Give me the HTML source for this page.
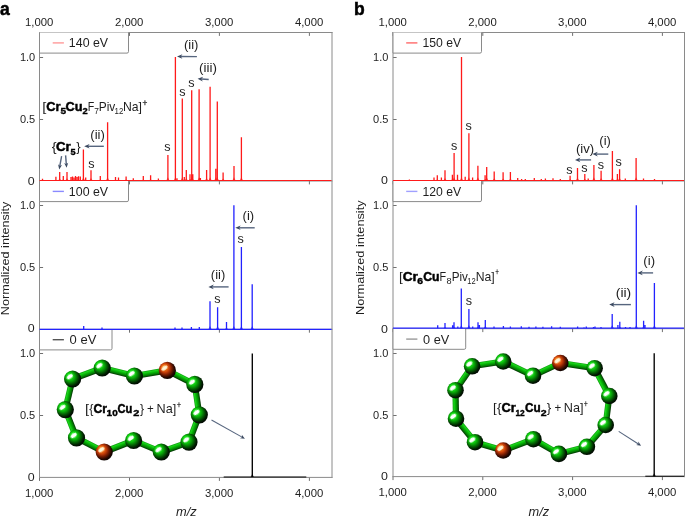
<!DOCTYPE html>
<html><head><meta charset="utf-8"><title>Mass spectra</title>
<style>html,body{margin:0;padding:0;background:#fff;width:685px;height:518px;overflow:hidden}svg{display:block;will-change:transform}</style>
</head><body>
<svg width="685" height="518" viewBox="0 0 685 518" font-family='"Liberation Sans", sans-serif'>
<defs>
<filter id="blur" x="-50%" y="-50%" width="200%" height="200%"><feGaussianBlur stdDeviation="0.55"/></filter>
<radialGradient id="gcr" cx="0.42" cy="0.42" r="0.6" fx="0.3" fy="0.3">
 <stop offset="0" stop-color="#a0ffa0"/>
 <stop offset="0.22" stop-color="#1ee81e"/>
 <stop offset="0.45" stop-color="#08aa08"/>
 <stop offset="0.66" stop-color="#035e03"/>
 <stop offset="0.85" stop-color="#011e01"/>
 <stop offset="1" stop-color="#000500"/>
</radialGradient>
<radialGradient id="gcu" cx="0.42" cy="0.42" r="0.6" fx="0.3" fy="0.3">
 <stop offset="0" stop-color="#ffc878"/>
 <stop offset="0.22" stop-color="#f47a1c"/>
 <stop offset="0.45" stop-color="#c43c08"/>
 <stop offset="0.66" stop-color="#701a02"/>
 <stop offset="0.85" stop-color="#280700"/>
 <stop offset="1" stop-color="#080100"/>
</radialGradient>
</defs>
<rect width="685" height="518" fill="#fff"/>
<text x="0.12" y="14.70" font-size="17.5" text-anchor="start" font-weight="bold" font-style="normal" fill="#000" stroke="#000" stroke-width="0.5">a</text>
<text x="354.12" y="14.90" font-size="17.5" text-anchor="start" font-weight="bold" font-style="normal" fill="#000" stroke="#000" stroke-width="0.5">b</text>
<text x="39.20" y="26.20" font-size="11.2" text-anchor="middle" font-weight="normal" font-style="normal" fill="#1e1e1e" textLength="28.4" lengthAdjust="spacingAndGlyphs">1,000</text>
<text x="39.20" y="497.00" font-size="11.2" text-anchor="middle" font-weight="normal" font-style="normal" fill="#1e1e1e" textLength="28.4" lengthAdjust="spacingAndGlyphs">1,000</text>
<text x="129.20" y="26.20" font-size="11.2" text-anchor="middle" font-weight="normal" font-style="normal" fill="#1e1e1e" textLength="28.4" lengthAdjust="spacingAndGlyphs">2,000</text>
<text x="129.20" y="497.00" font-size="11.2" text-anchor="middle" font-weight="normal" font-style="normal" fill="#1e1e1e" textLength="28.4" lengthAdjust="spacingAndGlyphs">2,000</text>
<text x="219.10" y="26.20" font-size="11.2" text-anchor="middle" font-weight="normal" font-style="normal" fill="#1e1e1e" textLength="28.4" lengthAdjust="spacingAndGlyphs">3,000</text>
<text x="219.10" y="497.00" font-size="11.2" text-anchor="middle" font-weight="normal" font-style="normal" fill="#1e1e1e" textLength="28.4" lengthAdjust="spacingAndGlyphs">3,000</text>
<text x="309.10" y="26.20" font-size="11.2" text-anchor="middle" font-weight="normal" font-style="normal" fill="#1e1e1e" textLength="28.4" lengthAdjust="spacingAndGlyphs">4,000</text>
<text x="309.10" y="497.00" font-size="11.2" text-anchor="middle" font-weight="normal" font-style="normal" fill="#1e1e1e" textLength="28.4" lengthAdjust="spacingAndGlyphs">4,000</text>
<text x="392.70" y="26.20" font-size="11.2" text-anchor="middle" font-weight="normal" font-style="normal" fill="#1e1e1e" textLength="28.4" lengthAdjust="spacingAndGlyphs">1,000</text>
<text x="392.70" y="496.10" font-size="11.2" text-anchor="middle" font-weight="normal" font-style="normal" fill="#1e1e1e" textLength="28.4" lengthAdjust="spacingAndGlyphs">1,000</text>
<text x="482.50" y="26.20" font-size="11.2" text-anchor="middle" font-weight="normal" font-style="normal" fill="#1e1e1e" textLength="28.4" lengthAdjust="spacingAndGlyphs">2,000</text>
<text x="482.50" y="496.10" font-size="11.2" text-anchor="middle" font-weight="normal" font-style="normal" fill="#1e1e1e" textLength="28.4" lengthAdjust="spacingAndGlyphs">2,000</text>
<text x="572.30" y="26.20" font-size="11.2" text-anchor="middle" font-weight="normal" font-style="normal" fill="#1e1e1e" textLength="28.4" lengthAdjust="spacingAndGlyphs">3,000</text>
<text x="572.30" y="496.10" font-size="11.2" text-anchor="middle" font-weight="normal" font-style="normal" fill="#1e1e1e" textLength="28.4" lengthAdjust="spacingAndGlyphs">3,000</text>
<text x="662.10" y="26.20" font-size="11.2" text-anchor="middle" font-weight="normal" font-style="normal" fill="#1e1e1e" textLength="28.4" lengthAdjust="spacingAndGlyphs">4,000</text>
<text x="662.10" y="496.10" font-size="11.2" text-anchor="middle" font-weight="normal" font-style="normal" fill="#1e1e1e" textLength="28.4" lengthAdjust="spacingAndGlyphs">4,000</text>
<line x1="39.50" y1="57.50" x2="43.10" y2="57.50" stroke="#707070" stroke-width="1" />
<text x="35.20" y="60.80" font-size="11.0" text-anchor="end" font-weight="normal" font-style="normal" fill="#1e1e1e" >1.0</text>
<line x1="39.50" y1="119.50" x2="43.10" y2="119.50" stroke="#707070" stroke-width="1" />
<text x="35.20" y="122.80" font-size="11.0" text-anchor="end" font-weight="normal" font-style="normal" fill="#1e1e1e" >0.5</text>
<text x="34.70" y="185.00" font-size="11.0" text-anchor="end" font-weight="normal" font-style="normal" fill="#1e1e1e" textLength="6.9" lengthAdjust="spacingAndGlyphs">0</text>
<line x1="39.50" y1="32.50" x2="39.50" y2="35.90" stroke="#707070" stroke-width="1" />
<line x1="129.50" y1="32.50" x2="129.50" y2="35.90" stroke="#707070" stroke-width="1" />
<line x1="219.40" y1="32.50" x2="219.40" y2="35.90" stroke="#707070" stroke-width="1" />
<line x1="309.40" y1="32.50" x2="309.40" y2="35.90" stroke="#707070" stroke-width="1" />
<line x1="39.50" y1="205.50" x2="43.10" y2="205.50" stroke="#707070" stroke-width="1" />
<text x="35.20" y="208.80" font-size="11.0" text-anchor="end" font-weight="normal" font-style="normal" fill="#1e1e1e" >1.0</text>
<line x1="39.50" y1="267.50" x2="43.10" y2="267.50" stroke="#707070" stroke-width="1" />
<text x="35.20" y="270.80" font-size="11.0" text-anchor="end" font-weight="normal" font-style="normal" fill="#1e1e1e" >0.5</text>
<text x="34.70" y="332.30" font-size="11.0" text-anchor="end" font-weight="normal" font-style="normal" fill="#1e1e1e" textLength="6.9" lengthAdjust="spacingAndGlyphs">0</text>
<line x1="39.50" y1="181.00" x2="39.50" y2="184.40" stroke="#707070" stroke-width="1" />
<line x1="129.50" y1="181.00" x2="129.50" y2="184.40" stroke="#707070" stroke-width="1" />
<line x1="219.40" y1="181.00" x2="219.40" y2="184.40" stroke="#707070" stroke-width="1" />
<line x1="309.40" y1="181.00" x2="309.40" y2="184.40" stroke="#707070" stroke-width="1" />
<line x1="39.50" y1="353.50" x2="43.10" y2="353.50" stroke="#707070" stroke-width="1" />
<text x="35.20" y="356.80" font-size="11.0" text-anchor="end" font-weight="normal" font-style="normal" fill="#1e1e1e" >1.0</text>
<line x1="39.50" y1="415.50" x2="43.10" y2="415.50" stroke="#707070" stroke-width="1" />
<text x="35.20" y="418.80" font-size="11.0" text-anchor="end" font-weight="normal" font-style="normal" fill="#1e1e1e" >0.5</text>
<text x="34.70" y="480.80" font-size="11.0" text-anchor="end" font-weight="normal" font-style="normal" fill="#1e1e1e" textLength="6.9" lengthAdjust="spacingAndGlyphs">0</text>
<line x1="39.50" y1="329.30" x2="39.50" y2="332.70" stroke="#707070" stroke-width="1" />
<line x1="129.50" y1="329.30" x2="129.50" y2="332.70" stroke="#707070" stroke-width="1" />
<line x1="219.40" y1="329.30" x2="219.40" y2="332.70" stroke="#707070" stroke-width="1" />
<line x1="309.40" y1="329.30" x2="309.40" y2="332.70" stroke="#707070" stroke-width="1" />
<line x1="39.50" y1="477.40" x2="39.50" y2="480.90" stroke="#707070" stroke-width="1" />
<line x1="129.50" y1="477.40" x2="129.50" y2="480.90" stroke="#707070" stroke-width="1" />
<line x1="219.40" y1="477.40" x2="219.40" y2="480.90" stroke="#707070" stroke-width="1" />
<line x1="309.40" y1="477.40" x2="309.40" y2="480.90" stroke="#707070" stroke-width="1" />
<line x1="39.00" y1="32.50" x2="332.50" y2="32.50" stroke="#8a8a8a" stroke-width="1" />
<line x1="39.00" y1="181.00" x2="332.50" y2="181.00" stroke="#8a8a8a" stroke-width="1" />
<line x1="39.00" y1="329.30" x2="332.50" y2="329.30" stroke="#8a8a8a" stroke-width="1" />
<line x1="39.00" y1="477.40" x2="332.50" y2="477.40" stroke="#8a8a8a" stroke-width="1" />
<line x1="39.50" y1="32.00" x2="39.50" y2="477.90" stroke="#8a8a8a" stroke-width="1" />
<line x1="332.00" y1="32.00" x2="332.00" y2="477.90" stroke="#8a8a8a" stroke-width="1" />
<line x1="393.00" y1="57.50" x2="396.60" y2="57.50" stroke="#707070" stroke-width="1" />
<text x="388.40" y="60.80" font-size="11.0" text-anchor="end" font-weight="normal" font-style="normal" fill="#1e1e1e" >1.0</text>
<line x1="393.00" y1="119.50" x2="396.60" y2="119.50" stroke="#707070" stroke-width="1" />
<text x="388.40" y="122.80" font-size="11.0" text-anchor="end" font-weight="normal" font-style="normal" fill="#1e1e1e" >0.5</text>
<text x="387.90" y="183.90" font-size="11.0" text-anchor="end" font-weight="normal" font-style="normal" fill="#1e1e1e" textLength="6.9" lengthAdjust="spacingAndGlyphs">0</text>
<line x1="393.00" y1="32.50" x2="393.00" y2="35.90" stroke="#707070" stroke-width="1" />
<line x1="482.80" y1="32.50" x2="482.80" y2="35.90" stroke="#707070" stroke-width="1" />
<line x1="572.60" y1="32.50" x2="572.60" y2="35.90" stroke="#707070" stroke-width="1" />
<line x1="662.40" y1="32.50" x2="662.40" y2="35.90" stroke="#707070" stroke-width="1" />
<line x1="393.00" y1="205.50" x2="396.60" y2="205.50" stroke="#707070" stroke-width="1" />
<text x="388.40" y="208.80" font-size="11.0" text-anchor="end" font-weight="normal" font-style="normal" fill="#1e1e1e" >1.0</text>
<line x1="393.00" y1="267.50" x2="396.60" y2="267.50" stroke="#707070" stroke-width="1" />
<text x="388.40" y="270.80" font-size="11.0" text-anchor="end" font-weight="normal" font-style="normal" fill="#1e1e1e" >0.5</text>
<text x="387.90" y="333.00" font-size="11.0" text-anchor="end" font-weight="normal" font-style="normal" fill="#1e1e1e" textLength="6.9" lengthAdjust="spacingAndGlyphs">0</text>
<line x1="393.00" y1="181.00" x2="393.00" y2="184.40" stroke="#707070" stroke-width="1" />
<line x1="482.80" y1="181.00" x2="482.80" y2="184.40" stroke="#707070" stroke-width="1" />
<line x1="572.60" y1="181.00" x2="572.60" y2="184.40" stroke="#707070" stroke-width="1" />
<line x1="662.40" y1="181.00" x2="662.40" y2="184.40" stroke="#707070" stroke-width="1" />
<line x1="393.00" y1="353.50" x2="396.60" y2="353.50" stroke="#707070" stroke-width="1" />
<text x="388.40" y="356.80" font-size="11.0" text-anchor="end" font-weight="normal" font-style="normal" fill="#1e1e1e" >1.0</text>
<line x1="393.00" y1="415.50" x2="396.60" y2="415.50" stroke="#707070" stroke-width="1" />
<text x="388.40" y="418.80" font-size="11.0" text-anchor="end" font-weight="normal" font-style="normal" fill="#1e1e1e" >0.5</text>
<text x="387.90" y="479.70" font-size="11.0" text-anchor="end" font-weight="normal" font-style="normal" fill="#1e1e1e" textLength="6.9" lengthAdjust="spacingAndGlyphs">0</text>
<line x1="393.00" y1="328.70" x2="393.00" y2="332.10" stroke="#707070" stroke-width="1" />
<line x1="482.80" y1="328.70" x2="482.80" y2="332.10" stroke="#707070" stroke-width="1" />
<line x1="572.60" y1="328.70" x2="572.60" y2="332.10" stroke="#707070" stroke-width="1" />
<line x1="662.40" y1="328.70" x2="662.40" y2="332.10" stroke="#707070" stroke-width="1" />
<line x1="393.00" y1="476.60" x2="393.00" y2="480.10" stroke="#707070" stroke-width="1" />
<line x1="482.80" y1="476.60" x2="482.80" y2="480.10" stroke="#707070" stroke-width="1" />
<line x1="572.60" y1="476.60" x2="572.60" y2="480.10" stroke="#707070" stroke-width="1" />
<line x1="662.40" y1="476.60" x2="662.40" y2="480.10" stroke="#707070" stroke-width="1" />
<line x1="392.50" y1="32.50" x2="685.00" y2="32.50" stroke="#8a8a8a" stroke-width="1" />
<line x1="392.50" y1="181.00" x2="685.00" y2="181.00" stroke="#8a8a8a" stroke-width="1" />
<line x1="392.50" y1="328.70" x2="685.00" y2="328.70" stroke="#8a8a8a" stroke-width="1" />
<line x1="392.50" y1="476.60" x2="685.00" y2="476.60" stroke="#8a8a8a" stroke-width="1" />
<line x1="393.00" y1="32.00" x2="393.00" y2="477.10" stroke="#8a8a8a" stroke-width="1" />
<line x1="684.50" y1="32.00" x2="684.50" y2="477.10" stroke="#8a8a8a" stroke-width="1" />
<path d="M39.50,32.50 V53.10 H127.00 Q128.50,53.10 128.50,51.60 V32.50" fill="#fff" stroke="#8a8a8a" stroke-width="1"/>
<line x1="52.70" y1="42.90" x2="63.90" y2="42.90" stroke="#ff9a9a" stroke-width="1.4" />
<text x="68.88" y="47.30" font-size="12.2" text-anchor="start" font-weight="normal" font-style="normal" fill="#1e1e1e"  textLength="39.23" lengthAdjust="spacingAndGlyphs">140 eV</text>
<path d="M39.50,181.00 V201.60 H127.00 Q128.50,201.60 128.50,200.10 V181.00" fill="#fff" stroke="#8a8a8a" stroke-width="1"/>
<line x1="52.70" y1="191.40" x2="63.90" y2="191.40" stroke="#8a8aff" stroke-width="1.4" />
<text x="68.88" y="195.80" font-size="12.2" text-anchor="start" font-weight="normal" font-style="normal" fill="#1e1e1e"  textLength="39.23" lengthAdjust="spacingAndGlyphs">100 eV</text>
<path d="M39.50,329.30 V349.90 H110.50 Q112.00,349.90 112.00,348.40 V329.30" fill="#fff" stroke="#8a8a8a" stroke-width="1"/>
<line x1="52.70" y1="339.70" x2="63.90" y2="339.70" stroke="#555" stroke-width="1.4" />
<text x="69.61" y="344.10" font-size="12.2" text-anchor="start" font-weight="normal" font-style="normal" fill="#1e1e1e"  textLength="26.70" lengthAdjust="spacingAndGlyphs">0 eV</text>
<path d="M393.00,32.50 V53.10 H480.00 Q481.50,53.10 481.50,51.60 V32.50" fill="#fff" stroke="#8a8a8a" stroke-width="1"/>
<line x1="406.20" y1="42.90" x2="417.40" y2="42.90" stroke="#ff6a6a" stroke-width="1.4" />
<text x="422.38" y="47.30" font-size="12.2" text-anchor="start" font-weight="normal" font-style="normal" fill="#1e1e1e"  textLength="38.73" lengthAdjust="spacingAndGlyphs">150 eV</text>
<path d="M393.00,181.00 V201.60 H480.00 Q481.50,201.60 481.50,200.10 V181.00" fill="#fff" stroke="#8a8a8a" stroke-width="1"/>
<line x1="406.20" y1="191.40" x2="417.40" y2="191.40" stroke="#a0a0ff" stroke-width="1.4" />
<text x="422.38" y="195.80" font-size="12.2" text-anchor="start" font-weight="normal" font-style="normal" fill="#1e1e1e"  textLength="38.73" lengthAdjust="spacingAndGlyphs">120 eV</text>
<path d="M393.00,328.70 V349.30 H464.20 Q465.70,349.30 465.70,347.80 V328.70" fill="#fff" stroke="#8a8a8a" stroke-width="1"/>
<line x1="406.20" y1="339.10" x2="417.40" y2="339.10" stroke="#999" stroke-width="1.4" />
<text x="423.11" y="343.50" font-size="12.2" text-anchor="start" font-weight="normal" font-style="normal" fill="#1e1e1e"  textLength="26.20" lengthAdjust="spacingAndGlyphs">0 eV</text>
<line x1="39.50" y1="180.50" x2="331.50" y2="180.50" stroke="#ff1a1a" stroke-width="1.2" />
<path d="M42.50,180.50V178.80M55.90,180.50V176.80M59.70,180.50V172.10M63.30,180.50V175.90M67.00,180.50V171.90M71.00,180.50V177.00M72.50,180.50V176.50M74.00,180.50V177.50M75.50,180.50V176.00M77.00,180.50V177.00M78.50,180.50V176.20M80.30,180.50V176.60M83.40,180.50V149.60M85.70,180.50V177.50M91.00,180.50V170.30M100.30,180.50V176.00M107.60,180.50V122.20M115.50,180.50V177.00M118.50,180.50V177.60M126.10,180.50V176.50M133.30,180.50V178.20M143.30,180.50V176.10M150.60,180.50V175.30M158.40,180.50V178.40M167.90,180.50V154.90M175.40,180.50V56.90M177.00,180.50V178.20M182.30,180.50V98.50M184.30,180.50V177.00M186.30,180.50V170.00M190.00,180.50V174.30M191.70,180.50V90.20M192.80,180.50V174.30M199.10,180.50V89.30M200.40,180.50V178.00M206.60,180.50V170.00M210.10,180.50V86.80M215.80,180.50V168.70M217.30,180.50V101.40M223.10,180.50V172.60M234.00,180.50V166.00M241.40,180.50V137.30" stroke="#ff1a1a" stroke-width="1.3" fill="none"/>
<path d="M58.10,180.50L59.70,178.40L61.30,180.50ZM61.70,180.50L63.30,179.35L64.90,180.50ZM65.40,180.50L67.00,178.35L68.60,180.50ZM70.90,180.50L72.50,179.50L74.10,180.50ZM73.90,180.50L75.50,179.38L77.10,180.50ZM76.90,180.50L78.50,179.43L80.10,180.50ZM81.80,180.50L83.40,177.30L85.00,180.50ZM89.40,180.50L91.00,177.95L92.60,180.50ZM98.70,180.50L100.30,179.38L101.90,180.50ZM106.00,180.50L107.60,177.30L109.20,180.50ZM124.50,180.50L126.10,179.50L127.70,180.50ZM141.70,180.50L143.30,179.40L144.90,180.50ZM149.00,180.50L150.60,179.20L152.20,180.50ZM166.30,180.50L167.90,177.30L169.50,180.50ZM173.80,180.50L175.40,177.30L177.00,180.50ZM180.70,180.50L182.30,177.30L183.90,180.50ZM184.70,180.50L186.30,177.88L187.90,180.50ZM188.40,180.50L190.00,178.95L191.60,180.50ZM190.10,180.50L191.70,177.30L193.30,180.50ZM191.20,180.50L192.80,178.95L194.40,180.50ZM197.50,180.50L199.10,177.30L200.70,180.50ZM205.00,180.50L206.60,177.88L208.20,180.50ZM208.50,180.50L210.10,177.30L211.70,180.50ZM214.20,180.50L215.80,177.55L217.40,180.50ZM215.70,180.50L217.30,177.30L218.90,180.50ZM221.50,180.50L223.10,178.53L224.70,180.50ZM232.40,180.50L234.00,177.30L235.60,180.50ZM239.80,180.50L241.40,177.30L243.00,180.50Z" fill="#ff1a1a" opacity="0.75"/>
<line x1="39.50" y1="329.30" x2="331.50" y2="329.30" stroke="#2222ff" stroke-width="1.2" />
<path d="M83.70,329.30V326.00M102.00,329.30V327.50M175.00,329.30V327.50M182.00,329.30V327.50M191.40,329.30V327.00M199.30,329.30V327.00M210.00,329.30V301.20M217.60,329.30V307.20M226.50,329.30V322.00M233.90,329.30V205.30M241.40,329.30V246.90M252.20,329.30V284.20" stroke="#2222ff" stroke-width="1.3" fill="none"/>
<path d="M208.40,329.30L210.00,326.10L211.60,329.30ZM216.00,329.30L217.60,326.10L219.20,329.30ZM224.90,329.30L226.50,327.48L228.10,329.30ZM232.30,329.30L233.90,326.10L235.50,329.30ZM239.80,329.30L241.40,326.10L243.00,329.30ZM250.60,329.30L252.20,326.10L253.80,329.30Z" fill="#2222ff" opacity="0.75"/>
<line x1="223.70" y1="477.00" x2="306.30" y2="477.00" stroke="#000" stroke-width="1.0" />
<path d="M252.30,477.00V353.60" stroke="#000" stroke-width="1.35" fill="none"/>
<path d="M250.70,477.00L252.30,473.80L253.90,477.00Z" fill="#000" opacity="0.75"/>
<line x1="393.00" y1="180.50" x2="684.00" y2="180.50" stroke="#ff1a1a" stroke-width="1.2" />
<path d="M409.40,180.50V179.60M434.00,180.50V177.50M437.30,180.50V175.20M441.40,180.50V177.50M445.00,180.50V170.30M452.40,180.50V174.70M454.10,180.50V153.00M457.50,180.50V174.70M461.50,180.50V57.00M465.20,180.50V176.80M468.90,180.50V133.30M472.60,180.50V177.50M477.90,180.50V165.70M485.10,180.50V175.20M486.70,180.50V167.00M494.20,180.50V171.40M503.10,180.50V172.30M510.40,180.50V172.10M517.70,180.50V178.00M521.60,180.50V179.00M525.30,180.50V179.00M534.30,180.50V178.00M541.30,180.50V179.00M545.40,180.50V178.50M553.00,180.50V178.30M560.30,180.50V179.00M570.10,180.50V175.70M577.50,180.50V168.00M584.80,180.50V173.90M588.20,180.50V178.50M593.90,180.50V165.10M601.10,180.50V170.80M612.40,180.50V151.10M617.40,180.50V173.90M619.60,180.50V169.20M625.30,180.50V178.50M636.10,180.50V157.90M643.50,180.50V178.50M654.50,180.50V179.00" stroke="#ff1a1a" stroke-width="1.3" fill="none"/>
<path d="M435.70,180.50L437.30,179.18L438.90,180.50ZM443.40,180.50L445.00,177.95L446.60,180.50ZM450.80,180.50L452.40,179.05L454.00,180.50ZM452.50,180.50L454.10,177.30L455.70,180.50ZM455.90,180.50L457.50,179.05L459.10,180.50ZM459.90,180.50L461.50,177.30L463.10,180.50ZM467.30,180.50L468.90,177.30L470.50,180.50ZM476.30,180.50L477.90,177.30L479.50,180.50ZM483.50,180.50L485.10,179.18L486.70,180.50ZM485.10,180.50L486.70,177.30L488.30,180.50ZM492.60,180.50L494.20,178.22L495.80,180.50ZM501.50,180.50L503.10,178.45L504.70,180.50ZM508.80,180.50L510.40,178.40L512.00,180.50ZM568.50,180.50L570.10,179.30L571.70,180.50ZM575.90,180.50L577.50,177.38L579.10,180.50ZM583.20,180.50L584.80,178.85L586.40,180.50ZM592.30,180.50L593.90,177.30L595.50,180.50ZM599.50,180.50L601.10,178.07L602.70,180.50ZM610.80,180.50L612.40,177.30L614.00,180.50ZM615.80,180.50L617.40,178.85L619.00,180.50ZM618.00,180.50L619.60,177.68L621.20,180.50ZM634.50,180.50L636.10,177.30L637.70,180.50Z" fill="#ff1a1a" opacity="0.75"/>
<line x1="393.00" y1="328.20" x2="684.00" y2="328.20" stroke="#2222ff" stroke-width="1.2" />
<path d="M437.70,328.20V325.20M445.00,328.20V323.10M452.60,328.20V325.20M454.00,328.20V322.20M457.80,328.20V326.50M461.30,328.20V288.40M468.90,328.20V309.10M472.70,328.20V326.50M478.00,328.20V322.20M479.40,328.20V325.00M485.30,328.20V319.90M494.00,328.20V326.60M503.40,328.20V326.00M510.40,328.20V326.50M521.30,328.20V326.30M529.00,328.20V326.80M535.90,328.20V326.50M542.90,328.20V326.80M551.60,328.20V326.30M560.30,328.20V326.80M577.60,328.20V326.50M584.00,328.20V327.50M586.30,328.20V326.50M593.50,328.20V327.00M595.00,328.20V326.60M601.00,328.20V327.00M612.20,328.20V314.00M617.90,328.20V325.00M619.80,328.20V321.70M625.50,328.20V327.00M630.00,328.20V327.00M636.30,328.20V205.30M643.60,328.20V320.80M645.00,328.20V325.00M654.40,328.20V283.00" stroke="#2222ff" stroke-width="1.3" fill="none"/>
<path d="M443.40,328.20L445.00,326.93L446.60,328.20ZM452.40,328.20L454.00,326.70L455.60,328.20ZM459.70,328.20L461.30,325.00L462.90,328.20ZM467.30,328.20L468.90,325.00L470.50,328.20ZM476.40,328.20L478.00,326.70L479.60,328.20ZM483.70,328.20L485.30,326.12L486.90,328.20ZM610.60,328.20L612.20,325.00L613.80,328.20ZM618.20,328.20L619.80,326.57L621.40,328.20ZM634.70,328.20L636.30,325.00L637.90,328.20ZM642.00,328.20L643.60,326.35L645.20,328.20ZM652.80,328.20L654.40,325.00L656.00,328.20Z" fill="#2222ff" opacity="0.75"/>
<line x1="645.30" y1="476.20" x2="684.00" y2="476.20" stroke="#000" stroke-width="1.0" />
<path d="M654.20,476.20V353.20" stroke="#000" stroke-width="1.35" fill="none"/>
<path d="M652.60,476.20L654.20,473.00L655.80,476.20Z" fill="#000" opacity="0.75"/>
<text transform="translate(9.4,258.4) rotate(-90)" font-size="11.4" text-anchor="middle" fill="#1e1e1e" textLength="113.5" lengthAdjust="spacingAndGlyphs">Normalized intensity</text>
<text transform="translate(363.9,257.7) rotate(-90)" font-size="11.4" text-anchor="middle" fill="#1e1e1e" textLength="114.5" lengthAdjust="spacingAndGlyphs">Normalized intensity</text>
<text x="186.40" y="515.60" font-size="12.8" text-anchor="middle" font-weight="normal" font-style="italic" fill="#1e1e1e" >m/z</text>
<text x="538.90" y="515.60" font-size="12.8" text-anchor="middle" font-weight="normal" font-style="italic" fill="#1e1e1e" >m/z</text>
<text x="42.23" y="110.50" font-size="12.4" text-anchor="start" font-weight="normal" font-style="normal" fill="#1e1e1e"  textLength="4.09" lengthAdjust="spacingAndGlyphs">[</text>
<text x="46.32" y="110.50" font-size="12.0" text-anchor="start" font-weight="bold" font-style="normal" fill="#000" stroke="#000" stroke-width="0.45" textLength="14.28" lengthAdjust="spacingAndGlyphs">Cr</text>
<text x="60.54" y="113.80" font-size="8.6" text-anchor="start" font-weight="bold" font-style="normal" fill="#000" stroke="#000" stroke-width="0.35" textLength="5.59" lengthAdjust="spacingAndGlyphs">5</text>
<text x="65.62" y="110.50" font-size="12.0" text-anchor="start" font-weight="bold" font-style="normal" fill="#000" stroke="#000" stroke-width="0.45" textLength="16.98" lengthAdjust="spacingAndGlyphs">Cu</text>
<text x="82.46" y="113.80" font-size="8.6" text-anchor="start" font-weight="bold" font-style="normal" fill="#000" stroke="#000" stroke-width="0.35" textLength="5.17" lengthAdjust="spacingAndGlyphs">2</text>
<text x="87.71" y="110.50" font-size="12.4" text-anchor="start" font-weight="normal" font-style="normal" fill="#1e1e1e"  textLength="6.51" lengthAdjust="spacingAndGlyphs">F</text>
<text x="94.37" y="113.80" font-size="8.6" text-anchor="start" font-weight="normal" font-style="normal" fill="#1e1e1e"  textLength="4.66" lengthAdjust="spacingAndGlyphs">7</text>
<text x="98.81" y="110.50" font-size="12.4" text-anchor="start" font-weight="normal" font-style="normal" fill="#1e1e1e"  textLength="16.51" lengthAdjust="spacingAndGlyphs">Piv</text>
<text x="114.54" y="113.80" font-size="8.6" text-anchor="start" font-weight="normal" font-style="normal" fill="#1e1e1e"  textLength="8.79" lengthAdjust="spacingAndGlyphs">12</text>
<text x="123.01" y="110.50" font-size="12.4" text-anchor="start" font-weight="normal" font-style="normal" fill="#1e1e1e"  textLength="19.01" lengthAdjust="spacingAndGlyphs">Na]</text>
<text x="142.58" y="105.60" font-size="8.4" text-anchor="start" font-weight="normal" font-style="normal" fill="#1e1e1e" stroke="#1e1e1e" stroke-width="0.25" textLength="4.84" lengthAdjust="spacingAndGlyphs">+</text>
<text x="51.65" y="151.40" font-size="12.4" text-anchor="start" font-weight="normal" font-style="normal" fill="#1e1e1e"  textLength="4.87" lengthAdjust="spacingAndGlyphs">{</text>
<text x="55.92" y="151.40" font-size="12.0" text-anchor="start" font-weight="bold" font-style="normal" fill="#000" stroke="#000" stroke-width="0.45" textLength="14.78" lengthAdjust="spacingAndGlyphs">Cr</text>
<text x="70.64" y="154.60" font-size="8.6" text-anchor="start" font-weight="bold" font-style="normal" fill="#000" stroke="#000" stroke-width="0.35" textLength="5.09" lengthAdjust="spacingAndGlyphs">5</text>
<text x="76.35" y="151.40" font-size="12.4" text-anchor="start" font-weight="normal" font-style="normal" fill="#1e1e1e"  textLength="4.37" lengthAdjust="spacingAndGlyphs">}</text>
<text x="183.94" y="49.20" font-size="12.6" text-anchor="start" font-weight="normal" font-style="normal" fill="#1e1e1e"  textLength="14.49" lengthAdjust="spacingAndGlyphs">(ii)</text>
<text x="199.14" y="72.20" font-size="12.6" text-anchor="start" font-weight="normal" font-style="normal" fill="#1e1e1e"  textLength="17.89" lengthAdjust="spacingAndGlyphs">(iii)</text>
<text x="179.32" y="95.80" font-size="12.6" text-anchor="start" font-weight="normal" font-style="normal" fill="#1e1e1e" >s</text>
<text x="188.32" y="86.90" font-size="12.6" text-anchor="start" font-weight="normal" font-style="normal" fill="#1e1e1e" >s</text>
<text x="164.22" y="150.80" font-size="12.6" text-anchor="start" font-weight="normal" font-style="normal" fill="#1e1e1e" >s</text>
<text x="88.22" y="167.70" font-size="12.6" text-anchor="start" font-weight="normal" font-style="normal" fill="#1e1e1e" >s</text>
<text x="90.34" y="138.90" font-size="12.6" text-anchor="start" font-weight="normal" font-style="normal" fill="#1e1e1e"  textLength="14.59" lengthAdjust="spacingAndGlyphs">(ii)</text>
<line x1="196.90" y1="56.60" x2="180.78" y2="56.44" stroke="#56657e" stroke-width="1.4" />
<path d="M177.00,56.40 L182.42,54.15 L180.78,56.44 L182.38,58.75 Z" fill="#3b4960"/>
<line x1="208.70" y1="79.50" x2="201.37" y2="79.04" stroke="#56657e" stroke-width="1.4" />
<path d="M197.60,78.80 L203.13,76.84 L201.37,79.04 L202.84,81.44 Z" fill="#3b4960"/>
<line x1="103.80" y1="146.30" x2="87.98" y2="146.30" stroke="#56657e" stroke-width="1.4" />
<path d="M84.20,146.30 L89.60,144.00 L87.98,146.30 L89.60,148.60 Z" fill="#3b4960"/>
<line x1="61.60" y1="156.20" x2="59.80" y2="166.09" stroke="#56657e" stroke-width="1.4" />
<path d="M59.20,169.40 L58.09,164.32 L59.80,166.09 L62.03,165.04 Z" fill="#3b4960"/>
<line x1="65.60" y1="155.40" x2="66.33" y2="164.35" stroke="#56657e" stroke-width="1.4" />
<path d="M66.60,167.70 L64.22,163.08 L66.33,164.35 L68.20,162.75 Z" fill="#3b4960"/>
<text x="242.64" y="219.60" font-size="12.6" text-anchor="start" font-weight="normal" font-style="normal" fill="#1e1e1e"  textLength="11.59" lengthAdjust="spacingAndGlyphs">(i)</text>
<text x="237.62" y="242.90" font-size="12.6" text-anchor="start" font-weight="normal" font-style="normal" fill="#1e1e1e" >s</text>
<line x1="254.70" y1="227.80" x2="239.08" y2="227.80" stroke="#56657e" stroke-width="1.4" />
<path d="M235.30,227.80 L240.70,225.50 L239.08,227.80 L240.70,230.10 Z" fill="#3b4960"/>
<text x="210.84" y="279.00" font-size="12.6" text-anchor="start" font-weight="normal" font-style="normal" fill="#1e1e1e"  textLength="14.39" lengthAdjust="spacingAndGlyphs">(ii)</text>
<text x="214.22" y="303.10" font-size="12.6" text-anchor="start" font-weight="normal" font-style="normal" fill="#1e1e1e" >s</text>
<line x1="228.60" y1="286.90" x2="212.18" y2="286.90" stroke="#56657e" stroke-width="1.4" />
<path d="M208.40,286.90 L213.80,284.60 L212.18,286.90 L213.80,289.20 Z" fill="#3b4960"/>
<text x="450.92" y="149.80" font-size="12.6" text-anchor="start" font-weight="normal" font-style="normal" fill="#1e1e1e" >s</text>
<text x="465.62" y="130.00" font-size="12.6" text-anchor="start" font-weight="normal" font-style="normal" fill="#1e1e1e" >s</text>
<text x="566.22" y="173.70" font-size="12.6" text-anchor="start" font-weight="normal" font-style="normal" fill="#1e1e1e" >s</text>
<text x="581.22" y="172.00" font-size="12.6" text-anchor="start" font-weight="normal" font-style="normal" fill="#1e1e1e" >s</text>
<text x="597.82" y="169.20" font-size="12.6" text-anchor="start" font-weight="normal" font-style="normal" fill="#1e1e1e" >s</text>
<text x="615.42" y="166.40" font-size="12.6" text-anchor="start" font-weight="normal" font-style="normal" fill="#1e1e1e" >s</text>
<text x="575.94" y="152.80" font-size="12.6" text-anchor="start" font-weight="normal" font-style="normal" fill="#1e1e1e"  textLength="18.29" lengthAdjust="spacingAndGlyphs">(iv)</text>
<text x="599.34" y="144.60" font-size="12.6" text-anchor="start" font-weight="normal" font-style="normal" fill="#1e1e1e"  textLength="11.49" lengthAdjust="spacingAndGlyphs">(i)</text>
<line x1="608.30" y1="154.10" x2="596.18" y2="154.10" stroke="#56657e" stroke-width="1.4" />
<path d="M592.40,154.10 L597.80,151.80 L596.18,154.10 L597.80,156.40 Z" fill="#3b4960"/>
<line x1="591.10" y1="159.90" x2="578.78" y2="159.90" stroke="#56657e" stroke-width="1.4" />
<path d="M575.00,159.90 L580.40,157.60 L578.78,159.90 L580.40,162.20 Z" fill="#3b4960"/>
<text x="398.93" y="280.60" font-size="12.4" text-anchor="start" font-weight="normal" font-style="normal" fill="#1e1e1e"  textLength="3.79" lengthAdjust="spacingAndGlyphs">[</text>
<text x="402.72" y="280.60" font-size="12.0" text-anchor="start" font-weight="bold" font-style="normal" fill="#000" stroke="#000" stroke-width="0.45" textLength="15.18" lengthAdjust="spacingAndGlyphs">Cr</text>
<text x="417.26" y="283.70" font-size="8.6" text-anchor="start" font-weight="bold" font-style="normal" fill="#000" stroke="#000" stroke-width="0.35" textLength="5.77" lengthAdjust="spacingAndGlyphs">6</text>
<text x="423.22" y="280.60" font-size="12.0" text-anchor="start" font-weight="bold" font-style="normal" fill="#000" stroke="#000" stroke-width="0.45" textLength="16.28" lengthAdjust="spacingAndGlyphs">Cu</text>
<text x="439.41" y="280.60" font-size="12.4" text-anchor="start" font-weight="normal" font-style="normal" fill="#1e1e1e"  textLength="6.61" lengthAdjust="spacingAndGlyphs">F</text>
<text x="446.46" y="283.70" font-size="8.6" text-anchor="start" font-weight="normal" font-style="normal" fill="#1e1e1e"  textLength="5.07" lengthAdjust="spacingAndGlyphs">8</text>
<text x="451.71" y="280.60" font-size="12.4" text-anchor="start" font-weight="normal" font-style="normal" fill="#1e1e1e"  textLength="16.21" lengthAdjust="spacingAndGlyphs">Piv</text>
<text x="467.24" y="283.70" font-size="8.6" text-anchor="start" font-weight="normal" font-style="normal" fill="#1e1e1e"  textLength="8.39" lengthAdjust="spacingAndGlyphs">12</text>
<text x="475.71" y="280.60" font-size="12.4" text-anchor="start" font-weight="normal" font-style="normal" fill="#1e1e1e"  textLength="19.01" lengthAdjust="spacingAndGlyphs">Na]</text>
<text x="495.58" y="275.20" font-size="8.4" text-anchor="start" font-weight="normal" font-style="normal" fill="#1e1e1e" stroke="#1e1e1e" stroke-width="0.25" textLength="3.24" lengthAdjust="spacingAndGlyphs">+</text>
<text x="465.82" y="305.20" font-size="12.6" text-anchor="start" font-weight="normal" font-style="normal" fill="#1e1e1e" >s</text>
<text x="643.34" y="265.20" font-size="12.6" text-anchor="start" font-weight="normal" font-style="normal" fill="#1e1e1e"  textLength="11.69" lengthAdjust="spacingAndGlyphs">(i)</text>
<line x1="653.10" y1="272.90" x2="641.18" y2="272.90" stroke="#56657e" stroke-width="1.4" />
<path d="M637.40,272.90 L642.80,270.60 L641.18,272.90 L642.80,275.20 Z" fill="#3b4960"/>
<text x="615.74" y="296.90" font-size="12.6" text-anchor="start" font-weight="normal" font-style="normal" fill="#1e1e1e"  textLength="15.49" lengthAdjust="spacingAndGlyphs">(ii)</text>
<line x1="630.90" y1="304.60" x2="612.98" y2="304.60" stroke="#56657e" stroke-width="1.4" />
<path d="M609.20,304.60 L614.60,302.30 L612.98,304.60 L614.60,306.90 Z" fill="#3b4960"/>
<linearGradient id="bg1" gradientUnits="userSpaceOnUse" x1="86.32" y1="370.59" x2="88.48" y2="376.41"><stop offset="0" stop-color="#0a9a0a"/><stop offset="0.2" stop-color="#1cd41c"/><stop offset="0.45" stop-color="#06b406"/><stop offset="0.75" stop-color="#037a03"/><stop offset="1" stop-color="#013201"/></linearGradient>
<path d="M71.52,376.09 L101.12,365.09 L103.28,370.91 L73.68,381.91 Z" fill="url(#bg1)"/>
<linearGradient id="bg2" gradientUnits="userSpaceOnUse" x1="119.05" y1="368.99" x2="117.55" y2="375.01"><stop offset="0" stop-color="#0a9a0a"/><stop offset="0.2" stop-color="#1cd41c"/><stop offset="0.45" stop-color="#06b406"/><stop offset="0.75" stop-color="#037a03"/><stop offset="1" stop-color="#013201"/></linearGradient>
<path d="M102.95,364.99 L135.15,372.99 L133.65,379.01 L101.45,371.01 Z" fill="url(#bg2)"/>
<linearGradient id="bg3" gradientUnits="userSpaceOnUse" x1="150.33" y1="370.14" x2="151.37" y2="376.26"><stop offset="0" stop-color="#0a9a0a"/><stop offset="0.2" stop-color="#1cd41c"/><stop offset="0.45" stop-color="#06b406"/><stop offset="0.75" stop-color="#037a03"/><stop offset="1" stop-color="#013201"/></linearGradient>
<path d="M133.88,372.94 L166.78,367.34 L167.82,373.46 L134.92,379.06 Z" fill="url(#bg3)"/>
<linearGradient id="bg4" gradientUnits="userSpaceOnUse" x1="182.46" y1="374.64" x2="179.64" y2="380.16"><stop offset="0" stop-color="#0a9a0a"/><stop offset="0.2" stop-color="#1cd41c"/><stop offset="0.45" stop-color="#06b406"/><stop offset="0.75" stop-color="#037a03"/><stop offset="1" stop-color="#013201"/></linearGradient>
<path d="M168.71,367.64 L196.21,381.64 L193.39,387.16 L165.89,373.16 Z" fill="url(#bg4)"/>
<linearGradient id="bg5" gradientUnits="userSpaceOnUse" x1="193.98" y1="400.05" x2="200.12" y2="399.15"><stop offset="0" stop-color="#0a9a0a"/><stop offset="0.2" stop-color="#1cd41c"/><stop offset="0.45" stop-color="#06b406"/><stop offset="0.75" stop-color="#037a03"/><stop offset="1" stop-color="#013201"/></linearGradient>
<path d="M191.73,384.85 L196.23,415.25 L202.37,414.35 L197.87,383.95 Z" fill="url(#bg5)"/>
<linearGradient id="bg6" gradientUnits="userSpaceOnUse" x1="191.25" y1="427.36" x2="197.05" y2="429.54"><stop offset="0" stop-color="#0a9a0a"/><stop offset="0.2" stop-color="#1cd41c"/><stop offset="0.45" stop-color="#06b406"/><stop offset="0.75" stop-color="#037a03"/><stop offset="1" stop-color="#013201"/></linearGradient>
<path d="M196.40,413.71 L186.10,441.01 L191.90,443.19 L202.20,415.89 Z" fill="url(#bg6)"/>
<linearGradient id="bg7" gradientUnits="userSpaceOnUse" x1="174.11" y1="444.13" x2="176.19" y2="449.97"><stop offset="0" stop-color="#0a9a0a"/><stop offset="0.2" stop-color="#1cd41c"/><stop offset="0.45" stop-color="#06b406"/><stop offset="0.75" stop-color="#037a03"/><stop offset="1" stop-color="#013201"/></linearGradient>
<path d="M187.96,439.18 L160.26,449.08 L162.34,454.92 L190.04,445.02 Z" fill="url(#bg7)"/>
<linearGradient id="bg8" gradientUnits="userSpaceOnUse" x1="148.64" y1="443.39" x2="146.26" y2="449.11"><stop offset="0" stop-color="#0a9a0a"/><stop offset="0.2" stop-color="#1cd41c"/><stop offset="0.45" stop-color="#06b406"/><stop offset="0.75" stop-color="#037a03"/><stop offset="1" stop-color="#013201"/></linearGradient>
<path d="M162.49,449.14 L134.79,437.64 L132.41,443.36 L160.11,454.86 Z" fill="url(#bg8)"/>
<linearGradient id="bg9" gradientUnits="userSpaceOnUse" x1="117.77" y1="443.36" x2="120.03" y2="449.14"><stop offset="0" stop-color="#0a9a0a"/><stop offset="0.2" stop-color="#1cd41c"/><stop offset="0.45" stop-color="#06b406"/><stop offset="0.75" stop-color="#037a03"/><stop offset="1" stop-color="#013201"/></linearGradient>
<path d="M132.47,437.61 L103.07,449.11 L105.33,454.89 L134.73,443.39 Z" fill="url(#bg9)"/>
<linearGradient id="bg10" gradientUnits="userSpaceOnUse" x1="91.76" y1="442.14" x2="88.94" y2="447.66"><stop offset="0" stop-color="#0a9a0a"/><stop offset="0.2" stop-color="#1cd41c"/><stop offset="0.45" stop-color="#06b406"/><stop offset="0.75" stop-color="#037a03"/><stop offset="1" stop-color="#013201"/></linearGradient>
<path d="M105.61,449.24 L77.91,435.04 L75.09,440.56 L102.79,454.76 Z" fill="url(#bg10)"/>
<linearGradient id="bg11" gradientUnits="userSpaceOnUse" x1="68.02" y1="424.84" x2="73.78" y2="422.56"><stop offset="0" stop-color="#0a9a0a"/><stop offset="0.2" stop-color="#1cd41c"/><stop offset="0.45" stop-color="#06b406"/><stop offset="0.75" stop-color="#037a03"/><stop offset="1" stop-color="#013201"/></linearGradient>
<path d="M73.62,438.94 L62.42,410.74 L68.18,408.46 L79.38,436.66 Z" fill="url(#bg11)"/>
<linearGradient id="bg12" gradientUnits="userSpaceOnUse" x1="65.93" y1="393.58" x2="71.97" y2="395.02"><stop offset="0" stop-color="#0a9a0a"/><stop offset="0.2" stop-color="#1cd41c"/><stop offset="0.45" stop-color="#06b406"/><stop offset="0.75" stop-color="#037a03"/><stop offset="1" stop-color="#013201"/></linearGradient>
<path d="M62.28,408.88 L69.58,378.28 L75.62,379.72 L68.32,410.32 Z" fill="url(#bg12)"/>
<circle cx="72.60" cy="379.00" r="8.6" fill="url(#gcr)"/>
<ellipse cx="69.80" cy="376.70" rx="3.4" ry="1.9" transform="rotate(-35 69.80 376.70)" fill="#ffffff" opacity="1" filter="url(#blur)"/>
<circle cx="102.20" cy="368.00" r="8.6" fill="url(#gcr)"/>
<ellipse cx="99.40" cy="365.70" rx="3.4" ry="1.9" transform="rotate(-35 99.40 365.70)" fill="#ffffff" opacity="1" filter="url(#blur)"/>
<circle cx="134.40" cy="376.00" r="8.6" fill="url(#gcr)"/>
<ellipse cx="131.60" cy="373.70" rx="3.4" ry="1.9" transform="rotate(-35 131.60 373.70)" fill="#ffffff" opacity="1" filter="url(#blur)"/>
<circle cx="167.30" cy="370.40" r="8.6" fill="url(#gcu)"/>
<ellipse cx="164.50" cy="368.10" rx="3.4" ry="1.9" transform="rotate(-35 164.50 368.10)" fill="#fff6d8" opacity="1" filter="url(#blur)"/>
<circle cx="194.80" cy="384.40" r="8.6" fill="url(#gcr)"/>
<ellipse cx="192.00" cy="382.10" rx="3.4" ry="1.9" transform="rotate(-35 192.00 382.10)" fill="#ffffff" opacity="1" filter="url(#blur)"/>
<circle cx="199.30" cy="414.80" r="8.6" fill="url(#gcr)"/>
<ellipse cx="196.50" cy="412.50" rx="3.4" ry="1.9" transform="rotate(-35 196.50 412.50)" fill="#ffffff" opacity="1" filter="url(#blur)"/>
<circle cx="189.00" cy="442.10" r="8.6" fill="url(#gcr)"/>
<ellipse cx="186.20" cy="439.80" rx="3.4" ry="1.9" transform="rotate(-35 186.20 439.80)" fill="#ffffff" opacity="1" filter="url(#blur)"/>
<circle cx="161.30" cy="452.00" r="8.6" fill="url(#gcr)"/>
<ellipse cx="158.50" cy="449.70" rx="3.4" ry="1.9" transform="rotate(-35 158.50 449.70)" fill="#ffffff" opacity="1" filter="url(#blur)"/>
<circle cx="133.60" cy="440.50" r="8.6" fill="url(#gcr)"/>
<ellipse cx="130.80" cy="438.20" rx="3.4" ry="1.9" transform="rotate(-35 130.80 438.20)" fill="#ffffff" opacity="1" filter="url(#blur)"/>
<circle cx="104.20" cy="452.00" r="8.6" fill="url(#gcu)"/>
<ellipse cx="101.40" cy="449.70" rx="3.4" ry="1.9" transform="rotate(-35 101.40 449.70)" fill="#fff6d8" opacity="1" filter="url(#blur)"/>
<circle cx="76.50" cy="437.80" r="8.6" fill="url(#gcr)"/>
<ellipse cx="73.70" cy="435.50" rx="3.4" ry="1.9" transform="rotate(-35 73.70 435.50)" fill="#ffffff" opacity="1" filter="url(#blur)"/>
<circle cx="65.30" cy="409.60" r="8.6" fill="url(#gcr)"/>
<ellipse cx="62.50" cy="407.30" rx="3.4" ry="1.9" transform="rotate(-35 62.50 407.30)" fill="#ffffff" opacity="1" filter="url(#blur)"/>
<linearGradient id="bg13" gradientUnits="userSpaceOnUse" x1="487.18" y1="360.84" x2="488.12" y2="366.96"><stop offset="0" stop-color="#0a9a0a"/><stop offset="0.2" stop-color="#1cd41c"/><stop offset="0.45" stop-color="#06b406"/><stop offset="0.75" stop-color="#037a03"/><stop offset="1" stop-color="#013201"/></linearGradient>
<path d="M471.63,363.24 L502.73,358.44 L503.67,364.56 L472.57,369.36 Z" fill="url(#bg13)"/>
<linearGradient id="bg14" gradientUnits="userSpaceOnUse" x1="519.43" y1="365.80" x2="516.77" y2="371.40"><stop offset="0" stop-color="#0a9a0a"/><stop offset="0.2" stop-color="#1cd41c"/><stop offset="0.45" stop-color="#06b406"/><stop offset="0.75" stop-color="#037a03"/><stop offset="1" stop-color="#013201"/></linearGradient>
<path d="M504.53,358.70 L534.33,372.90 L531.67,378.50 L501.87,364.30 Z" fill="url(#bg14)"/>
<linearGradient id="bg15" gradientUnits="userSpaceOnUse" x1="545.34" y1="366.54" x2="547.96" y2="372.16"><stop offset="0" stop-color="#0a9a0a"/><stop offset="0.2" stop-color="#1cd41c"/><stop offset="0.45" stop-color="#06b406"/><stop offset="0.75" stop-color="#037a03"/><stop offset="1" stop-color="#013201"/></linearGradient>
<path d="M531.69,372.89 L558.99,360.19 L561.61,365.81 L534.31,378.51 Z" fill="url(#bg15)"/>
<linearGradient id="bg16" gradientUnits="userSpaceOnUse" x1="577.91" y1="362.54" x2="576.99" y2="368.66"><stop offset="0" stop-color="#0a9a0a"/><stop offset="0.2" stop-color="#1cd41c"/><stop offset="0.45" stop-color="#06b406"/><stop offset="0.75" stop-color="#037a03"/><stop offset="1" stop-color="#013201"/></linearGradient>
<path d="M560.76,359.94 L595.06,365.14 L594.14,371.26 L559.84,366.06 Z" fill="url(#bg16)"/>
<linearGradient id="bg17" gradientUnits="userSpaceOnUse" x1="599.21" y1="383.55" x2="604.69" y2="380.65"><stop offset="0" stop-color="#0a9a0a"/><stop offset="0.2" stop-color="#1cd41c"/><stop offset="0.45" stop-color="#06b406"/><stop offset="0.75" stop-color="#037a03"/><stop offset="1" stop-color="#013201"/></linearGradient>
<path d="M591.86,369.65 L606.56,397.45 L612.04,394.55 L597.34,366.75 Z" fill="url(#bg17)"/>
<linearGradient id="bg18" gradientUnits="userSpaceOnUse" x1="604.42" y1="410.12" x2="610.58" y2="410.88"><stop offset="0" stop-color="#0a9a0a"/><stop offset="0.2" stop-color="#1cd41c"/><stop offset="0.45" stop-color="#06b406"/><stop offset="0.75" stop-color="#037a03"/><stop offset="1" stop-color="#013201"/></linearGradient>
<path d="M606.22,395.62 L602.62,424.62 L608.78,425.38 L612.38,396.38 Z" fill="url(#bg18)"/>
<linearGradient id="bg19" gradientUnits="userSpaceOnUse" x1="593.95" y1="433.88" x2="598.65" y2="437.92"><stop offset="0" stop-color="#0a9a0a"/><stop offset="0.2" stop-color="#1cd41c"/><stop offset="0.45" stop-color="#06b406"/><stop offset="0.75" stop-color="#037a03"/><stop offset="1" stop-color="#013201"/></linearGradient>
<path d="M603.35,422.98 L584.55,444.78 L589.25,448.82 L608.05,427.02 Z" fill="url(#bg19)"/>
<linearGradient id="bg20" gradientUnits="userSpaceOnUse" x1="572.14" y1="447.35" x2="573.66" y2="453.35"><stop offset="0" stop-color="#0a9a0a"/><stop offset="0.2" stop-color="#1cd41c"/><stop offset="0.45" stop-color="#06b406"/><stop offset="0.75" stop-color="#037a03"/><stop offset="1" stop-color="#013201"/></linearGradient>
<path d="M586.14,443.80 L558.14,450.90 L559.66,456.90 L587.66,449.80 Z" fill="url(#bg20)"/>
<linearGradient id="bg21" gradientUnits="userSpaceOnUse" x1="547.70" y1="443.86" x2="544.60" y2="449.24"><stop offset="0" stop-color="#0a9a0a"/><stop offset="0.2" stop-color="#1cd41c"/><stop offset="0.45" stop-color="#06b406"/><stop offset="0.75" stop-color="#037a03"/><stop offset="1" stop-color="#013201"/></linearGradient>
<path d="M560.45,451.21 L534.95,436.51 L531.85,441.89 L557.35,456.59 Z" fill="url(#bg21)"/>
<linearGradient id="bg22" gradientUnits="userSpaceOnUse" x1="517.21" y1="441.95" x2="519.39" y2="447.75"><stop offset="0" stop-color="#0a9a0a"/><stop offset="0.2" stop-color="#1cd41c"/><stop offset="0.45" stop-color="#06b406"/><stop offset="0.75" stop-color="#037a03"/><stop offset="1" stop-color="#013201"/></linearGradient>
<path d="M532.31,436.30 L502.11,447.60 L504.29,453.40 L534.49,442.10 Z" fill="url(#bg22)"/>
<linearGradient id="bg23" gradientUnits="userSpaceOnUse" x1="489.98" y1="443.38" x2="488.22" y2="449.32"><stop offset="0" stop-color="#0a9a0a"/><stop offset="0.2" stop-color="#1cd41c"/><stop offset="0.45" stop-color="#06b406"/><stop offset="0.75" stop-color="#037a03"/><stop offset="1" stop-color="#013201"/></linearGradient>
<path d="M504.08,447.53 L475.88,439.23 L474.12,445.17 L502.32,453.47 Z" fill="url(#bg23)"/>
<linearGradient id="bg24" gradientUnits="userSpaceOnUse" x1="467.91" y1="428.50" x2="463.09" y2="432.40"><stop offset="0" stop-color="#0a9a0a"/><stop offset="0.2" stop-color="#1cd41c"/><stop offset="0.45" stop-color="#06b406"/><stop offset="0.75" stop-color="#037a03"/><stop offset="1" stop-color="#013201"/></linearGradient>
<path d="M477.41,440.25 L458.41,416.75 L453.59,420.65 L472.59,444.15 Z" fill="url(#bg24)"/>
<linearGradient id="bg25" gradientUnits="userSpaceOnUse" x1="452.65" y1="404.50" x2="458.85" y2="404.40"><stop offset="0" stop-color="#0a9a0a"/><stop offset="0.2" stop-color="#1cd41c"/><stop offset="0.45" stop-color="#06b406"/><stop offset="0.75" stop-color="#037a03"/><stop offset="1" stop-color="#013201"/></linearGradient>
<path d="M452.90,418.75 L452.40,390.25 L458.60,390.15 L459.10,418.65 Z" fill="url(#bg25)"/>
<linearGradient id="bg26" gradientUnits="userSpaceOnUse" x1="461.25" y1="376.48" x2="466.35" y2="380.02"><stop offset="0" stop-color="#0a9a0a"/><stop offset="0.2" stop-color="#1cd41c"/><stop offset="0.45" stop-color="#06b406"/><stop offset="0.75" stop-color="#037a03"/><stop offset="1" stop-color="#013201"/></linearGradient>
<path d="M452.95,388.43 L469.55,364.53 L474.65,368.07 L458.05,391.97 Z" fill="url(#bg26)"/>
<circle cx="472.10" cy="366.30" r="8.3" fill="url(#gcr)"/>
<ellipse cx="469.30" cy="364.00" rx="3.4" ry="1.9" transform="rotate(-35 469.30 364.00)" fill="#ffffff" opacity="1" filter="url(#blur)"/>
<circle cx="503.20" cy="361.50" r="8.3" fill="url(#gcr)"/>
<ellipse cx="500.40" cy="359.20" rx="3.4" ry="1.9" transform="rotate(-35 500.40 359.20)" fill="#ffffff" opacity="1" filter="url(#blur)"/>
<circle cx="533.00" cy="375.70" r="8.3" fill="url(#gcr)"/>
<ellipse cx="530.20" cy="373.40" rx="3.4" ry="1.9" transform="rotate(-35 530.20 373.40)" fill="#ffffff" opacity="1" filter="url(#blur)"/>
<circle cx="560.30" cy="363.00" r="8.3" fill="url(#gcu)"/>
<ellipse cx="557.50" cy="360.70" rx="3.4" ry="1.9" transform="rotate(-35 557.50 360.70)" fill="#fff6d8" opacity="1" filter="url(#blur)"/>
<circle cx="594.60" cy="368.20" r="8.3" fill="url(#gcr)"/>
<ellipse cx="591.80" cy="365.90" rx="3.4" ry="1.9" transform="rotate(-35 591.80 365.90)" fill="#ffffff" opacity="1" filter="url(#blur)"/>
<circle cx="609.30" cy="396.00" r="8.3" fill="url(#gcr)"/>
<ellipse cx="606.50" cy="393.70" rx="3.4" ry="1.9" transform="rotate(-35 606.50 393.70)" fill="#ffffff" opacity="1" filter="url(#blur)"/>
<circle cx="605.70" cy="425.00" r="8.3" fill="url(#gcr)"/>
<ellipse cx="602.90" cy="422.70" rx="3.4" ry="1.9" transform="rotate(-35 602.90 422.70)" fill="#ffffff" opacity="1" filter="url(#blur)"/>
<circle cx="586.90" cy="446.80" r="8.3" fill="url(#gcr)"/>
<ellipse cx="584.10" cy="444.50" rx="3.4" ry="1.9" transform="rotate(-35 584.10 444.50)" fill="#ffffff" opacity="1" filter="url(#blur)"/>
<circle cx="558.90" cy="453.90" r="8.3" fill="url(#gcr)"/>
<ellipse cx="556.10" cy="451.60" rx="3.4" ry="1.9" transform="rotate(-35 556.10 451.60)" fill="#ffffff" opacity="1" filter="url(#blur)"/>
<circle cx="533.40" cy="439.20" r="8.3" fill="url(#gcr)"/>
<ellipse cx="530.60" cy="436.90" rx="3.4" ry="1.9" transform="rotate(-35 530.60 436.90)" fill="#ffffff" opacity="1" filter="url(#blur)"/>
<circle cx="503.20" cy="450.50" r="8.3" fill="url(#gcu)"/>
<ellipse cx="500.40" cy="448.20" rx="3.4" ry="1.9" transform="rotate(-35 500.40 448.20)" fill="#fff6d8" opacity="1" filter="url(#blur)"/>
<circle cx="475.00" cy="442.20" r="8.3" fill="url(#gcr)"/>
<ellipse cx="472.20" cy="439.90" rx="3.4" ry="1.9" transform="rotate(-35 472.20 439.90)" fill="#ffffff" opacity="1" filter="url(#blur)"/>
<circle cx="456.00" cy="418.70" r="8.3" fill="url(#gcr)"/>
<ellipse cx="453.20" cy="416.40" rx="3.4" ry="1.9" transform="rotate(-35 453.20 416.40)" fill="#ffffff" opacity="1" filter="url(#blur)"/>
<circle cx="455.50" cy="390.20" r="8.3" fill="url(#gcr)"/>
<ellipse cx="452.70" cy="387.90" rx="3.4" ry="1.9" transform="rotate(-35 452.70 387.90)" fill="#ffffff" opacity="1" filter="url(#blur)"/>
<text x="85.03" y="412.60" font-size="12.4" text-anchor="start" font-weight="normal" font-style="normal" fill="#1e1e1e"  textLength="4.09" lengthAdjust="spacingAndGlyphs">[</text>
<text x="89.35" y="412.60" font-size="12.4" text-anchor="start" font-weight="normal" font-style="normal" fill="#1e1e1e"  textLength="4.17" lengthAdjust="spacingAndGlyphs">{</text>
<text x="93.52" y="412.60" font-size="12.0" text-anchor="start" font-weight="bold" font-style="normal" fill="#000" stroke="#000" stroke-width="0.45" textLength="13.48" lengthAdjust="spacingAndGlyphs">Cr</text>
<text x="106.64" y="415.60" font-size="8.6" text-anchor="start" font-weight="bold" font-style="normal" fill="#000" stroke="#000" stroke-width="0.35" textLength="11.09" lengthAdjust="spacingAndGlyphs">10</text>
<text x="117.52" y="412.60" font-size="12.0" text-anchor="start" font-weight="bold" font-style="normal" fill="#000" stroke="#000" stroke-width="0.45" textLength="14.88" lengthAdjust="spacingAndGlyphs">Cu</text>
<text x="133.26" y="415.60" font-size="8.6" text-anchor="start" font-weight="bold" font-style="normal" fill="#000" stroke="#000" stroke-width="0.35" textLength="6.07" lengthAdjust="spacingAndGlyphs">2</text>
<text x="139.95" y="412.60" font-size="12.4" text-anchor="start" font-weight="normal" font-style="normal" fill="#1e1e1e"  textLength="4.07" lengthAdjust="spacingAndGlyphs">}</text>
<text x="147.08" y="412.60" font-size="12.4" text-anchor="start" font-weight="normal" font-style="normal" fill="#1e1e1e"  textLength="6.74" lengthAdjust="spacingAndGlyphs">+</text>
<text x="156.61" y="412.60" font-size="12.4" text-anchor="start" font-weight="normal" font-style="normal" fill="#1e1e1e"  textLength="19.71" lengthAdjust="spacingAndGlyphs">Na]</text>
<text x="176.88" y="407.60" font-size="8.4" text-anchor="start" font-weight="normal" font-style="normal" fill="#1e1e1e" stroke="#1e1e1e" stroke-width="0.25" textLength="3.94" lengthAdjust="spacingAndGlyphs">+</text>
<text x="493.13" y="412.30" font-size="12.4" text-anchor="start" font-weight="normal" font-style="normal" fill="#1e1e1e"  textLength="3.69" lengthAdjust="spacingAndGlyphs">[</text>
<text x="497.05" y="412.30" font-size="12.4" text-anchor="start" font-weight="normal" font-style="normal" fill="#1e1e1e"  textLength="4.57" lengthAdjust="spacingAndGlyphs">{</text>
<text x="501.52" y="412.30" font-size="12.0" text-anchor="start" font-weight="bold" font-style="normal" fill="#000" stroke="#000" stroke-width="0.45" textLength="14.28" lengthAdjust="spacingAndGlyphs">Cr</text>
<text x="515.44" y="415.70" font-size="8.6" text-anchor="start" font-weight="bold" font-style="normal" fill="#000" stroke="#000" stroke-width="0.35" textLength="9.29" lengthAdjust="spacingAndGlyphs">12</text>
<text x="524.92" y="412.30" font-size="12.0" text-anchor="start" font-weight="bold" font-style="normal" fill="#000" stroke="#000" stroke-width="0.45" textLength="15.68" lengthAdjust="spacingAndGlyphs">Cu</text>
<text x="540.86" y="415.70" font-size="8.6" text-anchor="start" font-weight="bold" font-style="normal" fill="#000" stroke="#000" stroke-width="0.35" textLength="5.87" lengthAdjust="spacingAndGlyphs">2</text>
<text x="546.75" y="412.30" font-size="12.4" text-anchor="start" font-weight="normal" font-style="normal" fill="#1e1e1e"  textLength="4.47" lengthAdjust="spacingAndGlyphs">}</text>
<text x="554.38" y="412.30" font-size="12.4" text-anchor="start" font-weight="normal" font-style="normal" fill="#1e1e1e"  textLength="6.74" lengthAdjust="spacingAndGlyphs">+</text>
<text x="563.81" y="412.30" font-size="12.4" text-anchor="start" font-weight="normal" font-style="normal" fill="#1e1e1e"  textLength="19.71" lengthAdjust="spacingAndGlyphs">Na]</text>
<text x="584.08" y="406.90" font-size="8.4" text-anchor="start" font-weight="normal" font-style="normal" fill="#1e1e1e" stroke="#1e1e1e" stroke-width="0.25" textLength="3.64" lengthAdjust="spacingAndGlyphs">+</text>
<line x1="211.50" y1="420.10" x2="242.09" y2="437.13" stroke="#56657e" stroke-width="1.1" />
<path d="M244.90,438.70 L239.91,438.21 L242.09,437.13 L241.85,434.71 Z" fill="#3b4960"/>
<line x1="618.70" y1="431.40" x2="638.39" y2="443.97" stroke="#56657e" stroke-width="1.1" />
<path d="M641.10,445.70 L636.15,444.91 L638.39,443.97 L638.30,441.54 Z" fill="#3b4960"/>
</svg>
</body></html>
